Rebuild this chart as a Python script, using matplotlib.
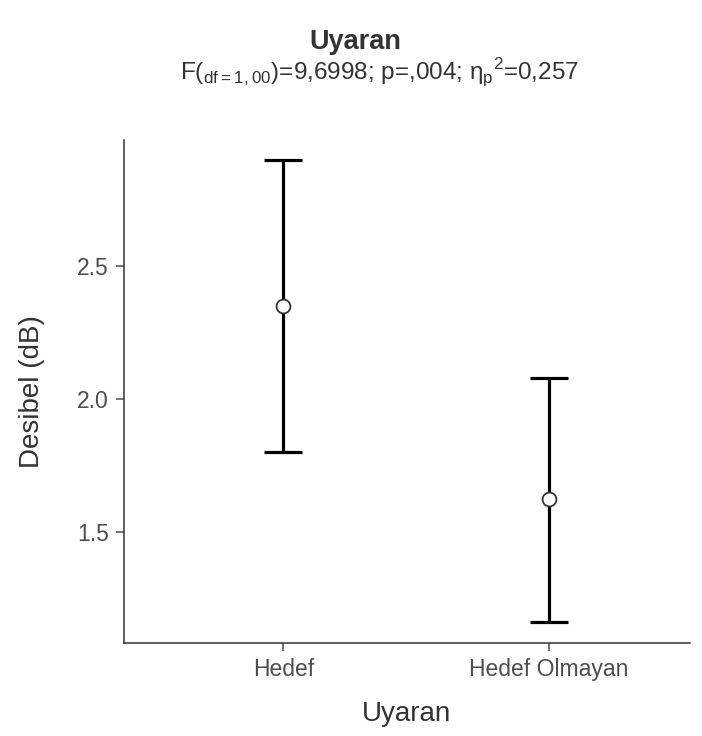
import matplotlib.pyplot as plt
import numpy as np

plt.rcParams['font.family'] = ['Liberation Sans', 'DejaVu Sans']
plt.rcParams['mathtext.fontset'] = 'custom'
plt.rcParams['mathtext.rm'] = 'Liberation Sans'

# Veriler
categories = ['Hedef', 'Hedef Olmayan']
means = [2.35, 1.623]
ci_low = [1.801, 1.162]
ci_high = [2.898, 2.079]
y_ticks = [1.5, 2.0, 2.5]

fig = plt.figure(figsize=(7.02, 7.36), dpi=100)
ax = fig.add_axes([124 / 702, 1 - 643 / 736, (690 - 124) / 702, (643 - 140) / 736])

x = np.arange(1, len(categories) + 1)
m = np.array(means)
yerr = np.vstack([m - np.array(ci_low), np.array(ci_high) - m])

ax.errorbar(x, m, yerr=yerr, fmt='none', ecolor='black', elinewidth=2.3,
            capsize=14, capthick=2.3, zorder=2)
ax.plot(x, m, 'o', markersize=10, markerfacecolor='white',
        markeredgecolor='#333333', markeredgewidth=1.3, zorder=3)

ax.set_xlim(0.4, 1 + (690 - 283) / 266)
ax.set_ylim(1.5 - (643 - 532) / 266, 2.5 + (266 - 140) / 266)
ax.set_xticks(x)
ax.set_xticklabels(categories)
ax.set_yticks(y_ticks)
ax.set_yticklabels([f'{t:.1f}' for t in y_ticks])

for s in ['top', 'right']:
    ax.spines[s].set_visible(False)
for s in ['left', 'bottom']:
    ax.spines[s].set_color('#333333')
    ax.spines[s].set_linewidth(1.1)

ax.tick_params(axis='both', colors='#4d4d4d', labelsize=16.5, length=6, width=1.1, pad=5)
for lbl in ax.get_xticklabels() + ax.get_yticklabels():
    lbl.set_color('#4d4d4d')

ax.set_xlabel('Uyaran', fontsize=20, color='#333333', labelpad=14)
ax.set_ylabel('Desibel (dB)', fontsize=20, color='#333333', labelpad=23)

fig.text(355 / 702, 1 - 42 / 736, 'Uyaran', ha='center', va='center',
         fontsize=19.5, fontweight='bold', color='#333333')
fig.text(379 / 702, 1 - 73 / 736,
         r'F($_{\mathregular{df=1,00}}$)=9,6998; p=,004; η$_{\mathregular{p}}$$^{\mathregular{2}}$=0,257',
         ha='center', va='center', fontsize=17.5, color='#333333')

fig.savefig('out.png', dpi=100, facecolor='white')
